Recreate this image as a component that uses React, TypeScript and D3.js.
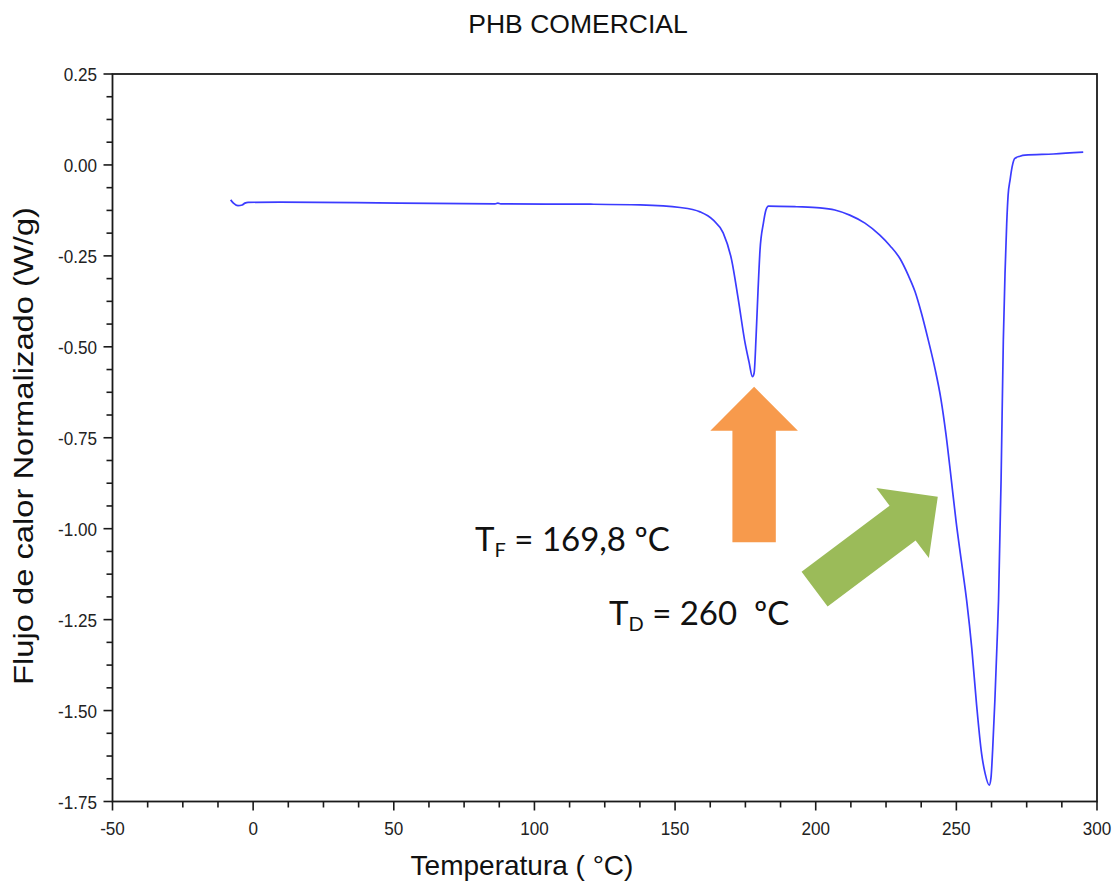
import React from "react";
import * as d3 from "d3";

// curva DSC (lectura aproximada de la imagen)
const temperatura = [
  -8.0, -7.0, -5.4, -3.9, -2.9, -1.8, 9.6, 52, 86, 87, 88, 120, 137.6, 151.8, 158.9,
  163.5, 167.1, 170.1, 172.5, 174.9, 176.3, 177.5, 178.1, 178.8, 179.5, 180.2, 181.4,
  182.3, 183.2, 193.2, 201.5, 206.8, 212.1, 217.5, 222.8, 226.4, 230.0, 233.0, 235.3,
  237.5, 240.0, 242.4, 244.5, 246.3, 248.1, 249.9, 251.8, 253.7, 255.5, 257.2, 259.0,
  260.2, 261.7, 262.3, 262.9, 263.7, 264.6, 265.0, 265.9, 266.7, 267.3, 267.9, 268.4,
  269.1, 269.8, 270.8, 272.6, 274.4, 284.5, 295.1,
];
const flujo = [
  -0.096, -0.105, -0.112, -0.110, -0.105, -0.103, -0.102, -0.105, -0.107, -0.105, -0.107,
  -0.108, -0.110, -0.117, -0.129, -0.151, -0.187, -0.261, -0.371, -0.490, -0.542, -0.582,
  -0.572, -0.472, -0.344, -0.234, -0.160, -0.124, -0.113, -0.115, -0.118, -0.124, -0.138,
  -0.160, -0.193, -0.222, -0.258, -0.305, -0.348, -0.405, -0.481, -0.560, -0.643, -0.740,
  -0.858, -0.980, -1.090, -1.200, -1.330, -1.485, -1.620, -1.672, -1.705, -1.686, -1.608,
  -1.471, -1.287, -1.196, -0.866, -0.481, -0.298, -0.161, -0.083, -0.041, -0.006, 0.018,
  0.024, 0.027, 0.030, 0.035,
];

const ticksX = [-50, 0, 50, 100, 150, 200, 250, 300];
const ticksY = [0.25, 0, -0.25, -0.5, -0.75, -1.0, -1.25, -1.5, -1.75];

const titulo = "PHB COMERCIAL";
const etiquetaX = "Temperatura ( °C)";
const etiquetaY = "Flujo de calor Normalizado (W/g)";

// flechas: cola y punta en unidades del gráfico
const flechas = [
  { cola: [178.1, -1.037], punta: [178.1, -0.61], color: "#f79a4c" },
  { cola: [199.6, -1.166], punta: [243.4, -0.912], color: "#9bbb59" },
];

const anotaciones = [
  { x: 78.9, y: -1.061, base: "T", sub: "F", resto: " = 169,8 ºC" },
  { x: 126.5, y: -1.265, base: "T", sub: "D", resto: " = 260  ºC" },
];

const W = 1118;
const H = 884;
const m = { left: 112.5, right: 1097, top: 74, bottom: 801.5 };

function flecha(x0: number, y0: number, x1: number, y1: number) {
  const dx = x1 - x0;
  const dy = y1 - y0;
  const len = Math.hypot(dx, dy);
  const ux = dx / len, uy = dy / len;
  const nx = -uy, ny = ux;
  const sw = 21.7, hw = 43.8, hl = 44;
  const bx = x1 - ux * hl, by = y1 - uy * hl;
  const pts = [
    [x0 + nx * sw, y0 + ny * sw],
    [bx + nx * sw, by + ny * sw],
    [bx + nx * hw, by + ny * hw],
    [x1, y1],
    [bx - nx * hw, by - ny * hw],
    [bx - nx * sw, by - ny * sw],
    [x0 - nx * sw, y0 - ny * sw],
  ];
  return "M" + pts.map((p) => p.join(",")).join("L") + "Z";
}

export default function App() {
  const x = d3.scaleLinear().domain([-50, 300]).range([m.left, m.right]);
  const y = d3.scaleLinear().domain([-1.75, 0.25]).range([m.bottom, m.top]);

  const puntos = temperatura.map((t, i) => [t, flujo[i]] as [number, number]);
  const linea = d3
    .line<[number, number]>()
    .x((d) => x(d[0]))
    .y((d) => y(d[1]))
    .curve(d3.curveMonotoneX);

  const menoresX = d3.range(-50, 300.1, 12.5).filter((v) => v % 50 !== 0);
  const menoresY = d3.range(-1.75, 0.26, 0.0625).filter((v) => Math.abs((v / 0.25) - Math.round(v / 0.25)) > 0.01);

  const fTick = "'Liberation Sans Narrow', 'Arial Narrow', 'Liberation Sans', sans-serif";
  const fLab = "'Liberation Sans', Arial, sans-serif";
  const fAnot = "Lato, 'Open Sans', sans-serif";

  return (
    <svg width={W} height={H} style={{ position: "absolute", left: 0, top: 0, background: "#fff" }}>
      <rect width={W} height={H} fill="#fff" />
      <text x={578} y={33} textAnchor="middle" fontFamily={fLab} fontSize={26.5} fill="#111">
        {titulo}
      </text>

      {/* marco */}
      <rect x={m.left} y={m.top} width={m.right - m.left} height={m.bottom - m.top} fill="none" stroke="#1a1a1a" strokeWidth={1.8} />

      {/* eje X */}
      {ticksX.map((t) => (
        <g key={"x" + t}>
          <line x1={x(t)} x2={x(t)} y1={m.bottom} y2={m.bottom + 9} stroke="#1a1a1a" strokeWidth={1.6} />
          <text
            transform={`translate(${x(t)},835) scale(0.9,1)`}
            textAnchor="middle"
            fontFamily={fTick}
            fontSize={19}
            fill="#222"
          >
            {t}
          </text>
        </g>
      ))}
      {menoresX.map((t) => (
        <line key={"mx" + t} x1={x(t)} x2={x(t)} y1={m.bottom} y2={m.bottom + 6} stroke="#1a1a1a" strokeWidth={1.6} />
      ))}

      {/* eje Y */}
      {ticksY.map((t) => (
        <g key={"y" + t}>
          <line x1={m.left - 9} x2={m.left} y1={y(t)} y2={y(t)} stroke="#1a1a1a" strokeWidth={1.6} />
          <text
            transform={`translate(97,${y(t) + 7}) scale(0.9,1)`}
            textAnchor="end"
            fontFamily={fTick}
            fontSize={19}
            fill="#222"
          >
            {t.toFixed(2)}
          </text>
        </g>
      ))}
      {menoresY.map((t) => (
        <line key={"my" + t} x1={m.left - 6} x2={m.left} y1={y(t)} y2={y(t)} stroke="#1a1a1a" strokeWidth={1.6} />
      ))}

      <text x={522} y={875} textAnchor="middle" fontFamily={fLab} fontSize={28} fill="#111" style={{ whiteSpace: "pre" }}>
        {etiquetaX}
      </text>
      <text
        transform={`translate(33,446) rotate(-90)`}
        textAnchor="middle"
        fontFamily={fLab}
        fontSize={28}
        fill="#111"
        textLength={478}
        lengthAdjust="spacingAndGlyphs"
      >
        {etiquetaY}
      </text>

      {/* curva */}
      <path d={linea(puntos) || ""} fill="none" stroke="#3b3bff" strokeWidth={1.7} />

      {/* flechas */}
      {flechas.map((f, i) => (
        <path key={"f" + i} d={flecha(x(f.cola[0]), y(f.cola[1]), x(f.punta[0]), y(f.punta[1]))} fill={f.color} />
      ))}

      {/* anotaciones */}
      {anotaciones.map((a, i) => (
        <text key={"a" + i} x={x(a.x)} y={y(a.y)} fontFamily={fAnot} fontSize={33} fill="#111" style={{ whiteSpace: "pre" }}>
          {a.base}
          <tspan fontSize={20} dy={6}>{a.sub}</tspan>
          <tspan dy={-6}>{a.resto}</tspan>
        </text>
      ))}
    </svg>
  );
}
